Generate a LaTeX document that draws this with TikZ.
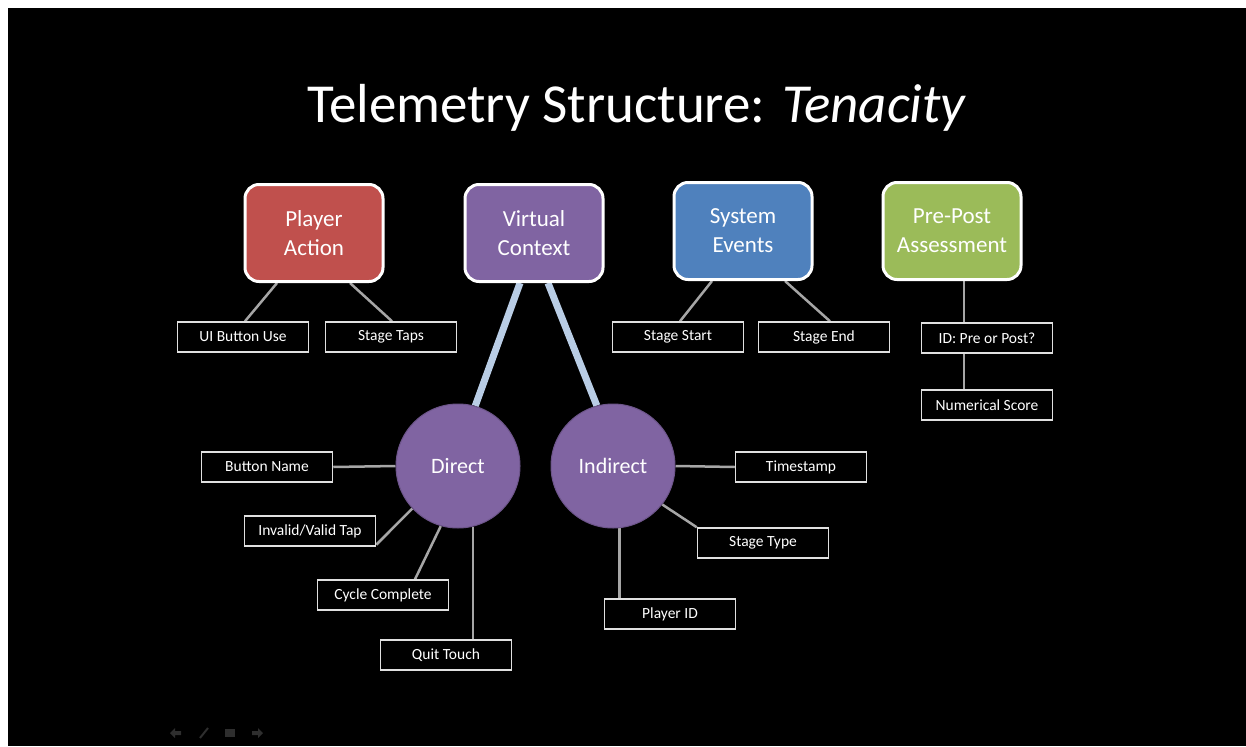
\documentclass[tikz,border=0pt]{standalone}
\usepackage{fontspec}
\setmainfont{Carlito}
\usetikzlibrary{calc}
\pgfdeclarelayer{bgfill}
\pgfdeclarelayer{background}
\pgfsetlayers{bgfill,background,main}
\definecolor{cred}{HTML}{C0504D}
\definecolor{cpurp}{HTML}{8064A2}
\definecolor{cblue}{HTML}{4F81BD}
\definecolor{cgreen}{HTML}{9BBB59}
\definecolor{lblue}{HTML}{B9CDE5}
\definecolor{linkgray}{HTML}{A6A6A6}
\definecolor{navgray}{HTML}{2E2E2E}
\begin{document}
\begin{tikzpicture}[x=1pt,y=-1pt,
  topbox/.style={draw=white, line width=3pt, rounded corners=14pt, minimum width=138pt, minimum height=97pt, text=white, font=\fontsize{23}{29}\selectfont, align=center, inner sep=0pt},
  leaf/.style={draw=white!88!black, line width=1.5pt, fill=black, minimum width=131pt, minimum height=30pt, text=white, font=\fontsize{15.5}{17}\selectfont, inner sep=0pt},
  hub/.style={circle, fill=cpurp, draw=cpurp!85!black, line width=1pt, minimum size=124pt, inner sep=0pt, text=white, font=\fontsize{22}{25}\selectfont},
  link/.style={draw=linkgray, line width=2.5pt},
  fat/.style={draw=lblue, line width=7pt}]
\useasboundingbox (0,0) rectangle (1246,746);
\begin{pgfonlayer}{bgfill}
\fill[white] (0,0) rectangle (1246,746);
\fill[black] (8,8) rectangle (1246,746);
\end{pgfonlayer}

\node[text=white, font=\fontsize{55}{62}\selectfont, anchor=base] (title) at (637,123) {Telemetry Structure: \textit{Tenacity}};

\node[topbox, fill=cred] (pa) at (314,233) {Player\\Action};
\node[topbox, fill=cpurp] (vc) at (534,233) {Virtual\\Context};
\node[topbox, fill=cblue] (se) at (743,231) {System\\Events};
\node[topbox, fill=cgreen] (pp) at (952,231) {Pre-Post\\Assessment};

\node[leaf] (ui) at (243,337) {UI Button Use};
\node[leaf] (st) at (391,337) {Stage Taps};
\node[leaf] (ss) at (678,337) {Stage Start};
\node[leaf] (sen) at (824,337) {Stage End};
\node[leaf] (id) at (987,338) {ID: Pre or Post?};
\node[leaf] (ns) at (987,405) {Numerical Score};

\node[hub] (dir) at (458,466) {Direct};
\node[hub] (ind) at (613,466) {Indirect};

\node[leaf] (bn) at (267,467) {Button Name};
\node[leaf] (iv) at (310,531) {Invalid/Valid Tap};
\node[leaf] (cc) at (383,595) {Cycle Complete};
\node[leaf] (qt) at (446,655) {Quit Touch};
\node[leaf] (ts) at (801,467) {Timestamp};
\node[leaf] (sty) at (763,543) {Stage Type};
\node[leaf] (pid) at (670,614) {Player ID};

\begin{pgfonlayer}{background}
\draw[link] ($(pa.south)+(-37,0)$) -- ($(ui.north)+(2,0)$);
\draw[link] ($(pa.south)+(36,0)$) -- ($(st.north)+(1,0)$);
\draw[link] ($(se.south)+(-31,0)$) -- ($(ss.north)+(2,0)$);
\draw[link] ($(se.south)+(42,0)$) -- ($(sen.north)+(6,0)$);
\draw[link] ($(pp.south)+(12,0)$) -- ($(id.north)+(-23,0)$);
\draw[link] ($(id.south)+(-23,0)$) -- ($(ns.north)+(-23,0)$);
\draw[fat] ($(vc.south)+(-14,0)$) -- (dir.74);
\draw[fat] ($(vc.south)+(14,0)$) -- (ind.105);
\draw[link] (bn.east) -- (dir.west);
\draw[link] ($(iv.south east)+(0,-2)$) -- (dir.223);
\draw[link] ($(cc.north)+(32,0)$) -- (dir.254);
\draw[link] (dir.284) -- (dir.284 |- qt.north);
\draw[link] (ind.east) -- (ts.west);
\draw[link] (ind.-38) -- (sty.north west);
\draw[link] (ind.276) -- (ind.276 |- pid.north);
\end{pgfonlayer}

% faint slide-show controls
\fill[navgray] (170,733) -- (175,728) -- (175,731) -- (181,731) -- (181,735) -- (175,735) -- (175,738) -- cycle;
\draw[navgray, line width=2pt] (200,738) -- (208,728);
\fill[navgray] (225,729) rectangle (235,737);
\fill[navgray] (263,733) -- (258,728) -- (258,731) -- (252,731) -- (252,735) -- (258,735) -- (258,738) -- cycle;
\end{tikzpicture}
\end{document}
